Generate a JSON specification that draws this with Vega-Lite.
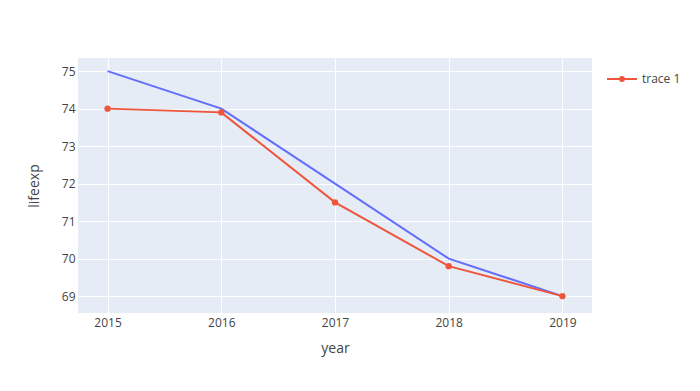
{
  "$schema": "https://vega.github.io/schema/vega-lite/v6.json",
  "autosize": {"type": "none"},
  "padding": {"left": 78, "top": 58, "right": 108, "bottom": 78},
  "width": 514,
  "height": 255,
  "background": "white",
  "config": {
    "view": {"fill": "#E5ECF6", "stroke": null},
    "font": "Open Sans",
    "axis": {
      "domain": false,
      "ticks": false,
      "gridColor": "white",
      "gridWidth": 1,
      "labelColor": "#444",
      "labelFont": "Open Sans",
      "labelFontSize": 12,
      "titleColor": "#444",
      "titleFont": "Open Sans",
      "titleFontSize": 14,
      "titleFontWeight": "normal"
    }
  },
  "data": {
    "values": [
      {"year": 2015, "lifeexp": 75, "series": "trace 0"},
      {"year": 2016, "lifeexp": 74, "series": "trace 0"},
      {"year": 2017, "lifeexp": 72, "series": "trace 0"},
      {"year": 2018, "lifeexp": 70, "series": "trace 0"},
      {"year": 2019, "lifeexp": 69, "series": "trace 0"},
      {"year": 2015, "lifeexp": 74, "series": "trace 1"},
      {"year": 2016, "lifeexp": 73.9, "series": "trace 1"},
      {"year": 2017, "lifeexp": 71.5, "series": "trace 1"},
      {"year": 2018, "lifeexp": 69.8, "series": "trace 1"},
      {"year": 2019, "lifeexp": 69, "series": "trace 1"}
    ]
  },
  "encoding": {
    "x": {
      "field": "year",
      "type": "quantitative",
      "scale": {"domain": [2014.74, 2019.26], "nice": false, "zero": false},
      "axis": {"values": [2015, 2016, 2017, 2018, 2019], "format": "d", "labelPadding": 4, "title": "year", "titlePadding": 13}
    },
    "y": {
      "field": "lifeexp",
      "type": "quantitative",
      "scale": {"domain": [68.55, 75.35], "nice": false, "zero": false},
      "axis": {"values": [69, 70, 71, 72, 73, 74, 75], "format": "d", "labelPadding": 3, "title": "lifeexp", "titlePadding": 20}
    }
  },
  "layer": [
    {
      "transform": [{"filter": "datum.series === 'trace 0'"}],
      "mark": {"type": "line", "color": "#636EFA", "strokeWidth": 2}
    },
    {
      "transform": [{"filter": "datum.series === 'trace 1'"}],
      "mark": {"type": "line", "strokeWidth": 2, "point": {"size": 40, "filled": true, "opacity": 1}},
      "encoding": {
        "color": {
          "field": "series",
          "type": "nominal",
          "scale": {"domain": ["trace 1"], "range": ["#EF553B"]},
          "legend": {
            "title": null,
            "orient": "none",
            "legendX": 528,
            "legendY": 5,
            "symbolType": "M-1,0L1,0M0.13,0A0.13,0.13 0 1,1 -0.13,0A0.13,0.13 0 1,1 0.13,0",
            "symbolSize": 900,
            "symbolStrokeWidth": 2,
            "symbolFillColor": "#EF553B",
            "symbolStrokeColor": "#EF553B",
            "labelFont": "Open Sans",
            "labelFontSize": 12,
            "labelColor": "#444",
            "labelOffset": 4
          }
        }
      }
    }
  ]
}
